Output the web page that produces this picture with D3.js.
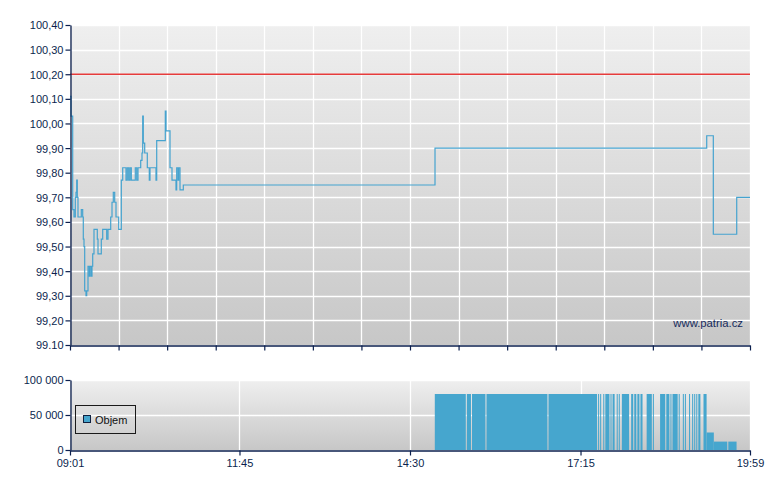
<!DOCTYPE html>
<html>
<head>
<meta charset="utf-8">
<script src="https://cdn.jsdelivr.net/npm/d3@7"></script>
<style>
  body { margin: 0; background: #ffffff; }
  svg { display: block; }
  text { font-family: "Liberation Sans", Arial, sans-serif; }
</style>
</head>
<body>
<svg id="chart" width="780" height="490"></svg>
<script>
// ---------- DATA ----------
const priceTimes = ["09:01:00","09:01:58","09:03:37","09:04:52","09:06:08","09:06:48","09:07:29","09:08:04","09:08:44","09:11:56",
  "09:13:17","09:13:52","09:14:33","09:15:13","09:16:29","09:17:10","09:18:25","09:19:40","09:20:21","09:21:37",
  "09:22:17","09:22:58","09:24:13","09:27:25","09:28:06","09:31:17","09:32:39","09:36:31","09:37:46","09:40:23",
  "09:41:39","09:42:54","09:44:15","09:45:31","09:48:07","09:50:39","09:52:00","09:55:11","09:56:27","09:57:48",
  "09:59:04","10:00:19","10:04:11","10:05:33","10:06:48","10:09:25","10:10:40","10:11:21","10:11:56","10:13:17",
  "10:15:48","10:17:44","10:18:25","10:24:13","10:24:54","10:33:13","10:33:54","10:37:46","10:39:42","10:43:34",
  "10:44:15","10:45:31","10:46:11","10:47:27","10:50:38","14:54:12","19:17:07","19:23:30","19:46:09","19:59:00"];
const priceValues = [100.11,100.03,99.65,99.62,99.70,99.72,99.77,99.70,99.62,99.65,
  99.62,99.53,99.50,99.32,99.30,99.32,99.42,99.38,99.42,99.38,
  99.42,99.47,99.57,99.53,99.47,99.53,99.57,99.53,99.57,99.62,
  99.68,99.72,99.68,99.62,99.57,99.77,99.82,99.77,99.82,99.77,
  99.82,99.77,99.82,99.77,99.82,99.85,99.88,100.03,99.92,99.88,
  99.82,99.77,99.82,99.77,99.93,100.05,99.97,99.82,99.77,99.73,
  99.82,99.77,99.82,99.73,99.75,99.90,99.95,99.55,99.70,99.70];
const referencePrice = 100.20;

const volStart = ["14:54","15:25","15:30","15:44","16:44","17:32","17:34","17:37","17:39","17:44",
  "17:46","17:50","17:52","17:55","18:04","18:07","18:10","18:13","18:19","18:25",
  "18:32","18:38","18:42","18:44","18:50","18:54","18:56","19:00","19:03","19:05",
  "19:07","19:09","19:14","19:17","19:24","19:38"];
const volEnd = ["15:24","15:29","15:43","16:43","17:31","17:33","17:35","17:38","17:43","17:45",
  "17:48","17:51","17:53","18:02","18:06","18:09","18:12","18:15","18:24","18:26",
  "18:37","18:41","18:43","18:49","18:51","18:55","18:57","19:01","19:04","19:06",
  "19:08","19:11","19:17","19:24","19:37","19:46"];
const volValues = [80000,80000,80000,80000,80000,80000,80000,80000,80000,80000,
  80000,80000,80000,80000,80000,80000,80000,80000,80000,80000,
  80000,80000,80000,80000,80000,80000,80000,80000,80000,80000,
  80000,80000,80000,25000,12000,12000];

const priceTicks = [99.10,99.20,99.30,99.40,99.50,99.60,99.70,99.80,99.90,100.00,100.10,100.20,100.30,100.40];
const priceTickLabels = ["99.10","99,20","99,30","99,40","99,50","99,60","99,70","99,80","99,90","100,00","100,10","100,20","100,30","100,40"];
const topTimeTicks = ["09:01","09:48","10:35","11:22","12:09","12:56","13:43","14:30","15:17","16:04","16:51","17:38","18:25","19:12","19:59"];
const bottomTimeTicks = ["09:01","11:45","14:30","17:15","19:59"];
const volTicks = [0, 50000, 100000];
const volTickLabels = ["0", "50 000", "100 000"];
const timeDomain = ["09:01", "19:59"];
const legendLabel = "Objem";
const watermark = "www.patria.cz";

// ---------- SETUP ----------
const parseS = d3.timeParse("%H:%M:%S");
const parseM = d3.timeParse("%H:%M");
const svg = d3.select("#chart");
const navy = "#0b1f4e";
const L = 70, R = 750;
const topT = 25, topB = 345;
const botT = 380, botB = 450;

const defs = svg.append("defs");
const grad = defs.append("linearGradient").attr("id", "bg").attr("x1", 0).attr("y1", 0).attr("x2", 0).attr("y2", 1);
grad.append("stop").attr("offset", "0%").attr("stop-color", "#efefef");
grad.append("stop").attr("offset", "100%").attr("stop-color", "#c7c7c7");

const x = d3.scaleTime().domain(timeDomain.map(parseM)).range([L, R]);
const yP = d3.scaleLinear().domain([99.10, 100.40]).range([topB, topT]);
const yV = d3.scaleLinear().domain([0, 100000]).range([botB, botT]);

// ---------- TOP CHART ----------
const gTop = svg.append("g");
gTop.append("rect").attr("x", L).attr("y", topT).attr("width", R - L).attr("height", topB - topT).attr("fill", "url(#bg)");
gTop.append("g").selectAll("line").data(priceTicks.slice(1)).join("line")
  .attr("x1", L).attr("x2", R).attr("y1", d => Math.round(yP(d)) + 0.5).attr("y2", d => Math.round(yP(d)) + 0.5)
  .attr("stroke", "#ffffff").attr("stroke-width", 1.3);
gTop.append("g").selectAll("line").data(topTimeTicks.slice(1)).join("line")
  .attr("x1", d => Math.round(x(parseM(d))) + 0.5).attr("x2", d => Math.round(x(parseM(d))) + 0.5)
  .attr("y1", topT).attr("y2", topB)
  .attr("stroke", "#ffffff").attr("stroke-width", 1.3);

gTop.append("line").attr("x1", L).attr("x2", R).attr("y1", yP(referencePrice)).attr("y2", yP(referencePrice))
  .attr("stroke", "#e63b3b").attr("stroke-width", 1.5);

const pts = priceTimes.map((t, i) => [parseS(t), priceValues[i]]);
gTop.append("path").datum(pts)
  .attr("d", d3.line().x(d => x(d[0])).y(d => yP(d[1])).curve(d3.curveStepAfter))
  .attr("fill", "none").attr("stroke", "#45a3cf").attr("stroke-width", 1.2);

gTop.append("text").attr("x", 743).attr("y", 327).attr("text-anchor", "end")
  .attr("font-size", 11.3).attr("fill", "#152a5c").text(watermark);

const yAxisTop = d3.axisLeft(yP).tickValues(priceTicks).tickFormat((d, i) => priceTickLabels[i]).tickSize(5).tickSizeOuter(0);
const gy = gTop.append("g").attr("transform", `translate(${L + 0.5},0)`).call(yAxisTop);
const xAxisTop = d3.axisBottom(x).tickValues(topTimeTicks.map(parseM)).tickFormat("").tickSize(5).tickSizeOuter(0);
const gx = gTop.append("g").attr("transform", `translate(0,${topB + 0.5})`).call(xAxisTop);

// ---------- BOTTOM CHART ----------
const gBot = svg.append("g");
gBot.append("rect").attr("x", L).attr("y", botT).attr("width", R - L).attr("height", botB - botT).attr("fill", "url(#bg)");
gBot.append("g").selectAll("line").data(volTicks.slice(1)).join("line")
  .attr("x1", L).attr("x2", R).attr("y1", d => Math.round(yV(d)) + 0.5).attr("y2", d => Math.round(yV(d)) + 0.5)
  .attr("stroke", "#ffffff").attr("stroke-width", 1.3);
gBot.append("g").selectAll("line").data(bottomTimeTicks.slice(1)).join("line")
  .attr("x1", d => Math.round(x(parseM(d))) + 0.5).attr("x2", d => Math.round(x(parseM(d))) + 0.5)
  .attr("y1", botT).attr("y2", botB)
  .attr("stroke", "#ffffff").attr("stroke-width", 1.3);

const bars = volStart.map((s, i) => ({ s: parseM(s), e: parseM(volEnd[i]), v: volValues[i] }));
gBot.append("g").selectAll("rect").data(bars).join("rect")
  .attr("x", d => x(d.s)).attr("width", d => Math.max(0.8, x(d.e) - x(d.s)))
  .attr("y", d => yV(d.v)).attr("height", d => yV(0) - yV(d.v))
  .attr("fill", "#46a6ce");

const yAxisBot = d3.axisLeft(yV).tickValues(volTicks).tickFormat((d, i) => volTickLabels[i]).tickSize(5).tickSizeOuter(0);
const gyb = gBot.append("g").attr("transform", `translate(${L + 0.5},0)`).call(yAxisBot);
const xAxisBot = d3.axisBottom(x).tickValues(bottomTimeTicks.map(parseM)).tickFormat(d3.timeFormat("%H:%M")).tickSize(5).tickSizeOuter(0);
const gxb = gBot.append("g").attr("transform", `translate(0,${botB + 0.5})`).call(xAxisBot);

const lg = gBot.append("g");
lg.append("rect").attr("x", 75.5).attr("y", 405.5).attr("width", 60).attr("height", 28)
  .attr("fill", "none").attr("stroke", "#1a1a1a").attr("stroke-width", 1);
lg.append("rect").attr("x", 83.5).attr("y", 415.5).attr("width", 7).attr("height", 7)
  .attr("fill", "#46a6ce").attr("stroke", "#10203f").attr("stroke-width", 1);
lg.append("text").attr("x", 95).attr("y", 424).attr("font-size", 11).attr("fill", "#111").text(legendLabel);

[gy, gx, gyb, gxb].forEach(g => {
  g.selectAll(".domain").attr("stroke", navy).attr("stroke-width", 1.3);
  g.selectAll(".tick line").attr("stroke", navy).attr("stroke-width", 1.2);
  g.selectAll(".tick text").attr("fill", navy).attr("font-size", 11)
    .attr("font-family", "'Liberation Sans', Arial, sans-serif");
});
[gy, gyb].forEach(g => g.selectAll(".tick text").attr("x", -7).attr("dy", "0.36em"));
gxb.selectAll(".tick text").attr("y", 9).attr("dy", "0.71em");
</script>
</body>
</html>
